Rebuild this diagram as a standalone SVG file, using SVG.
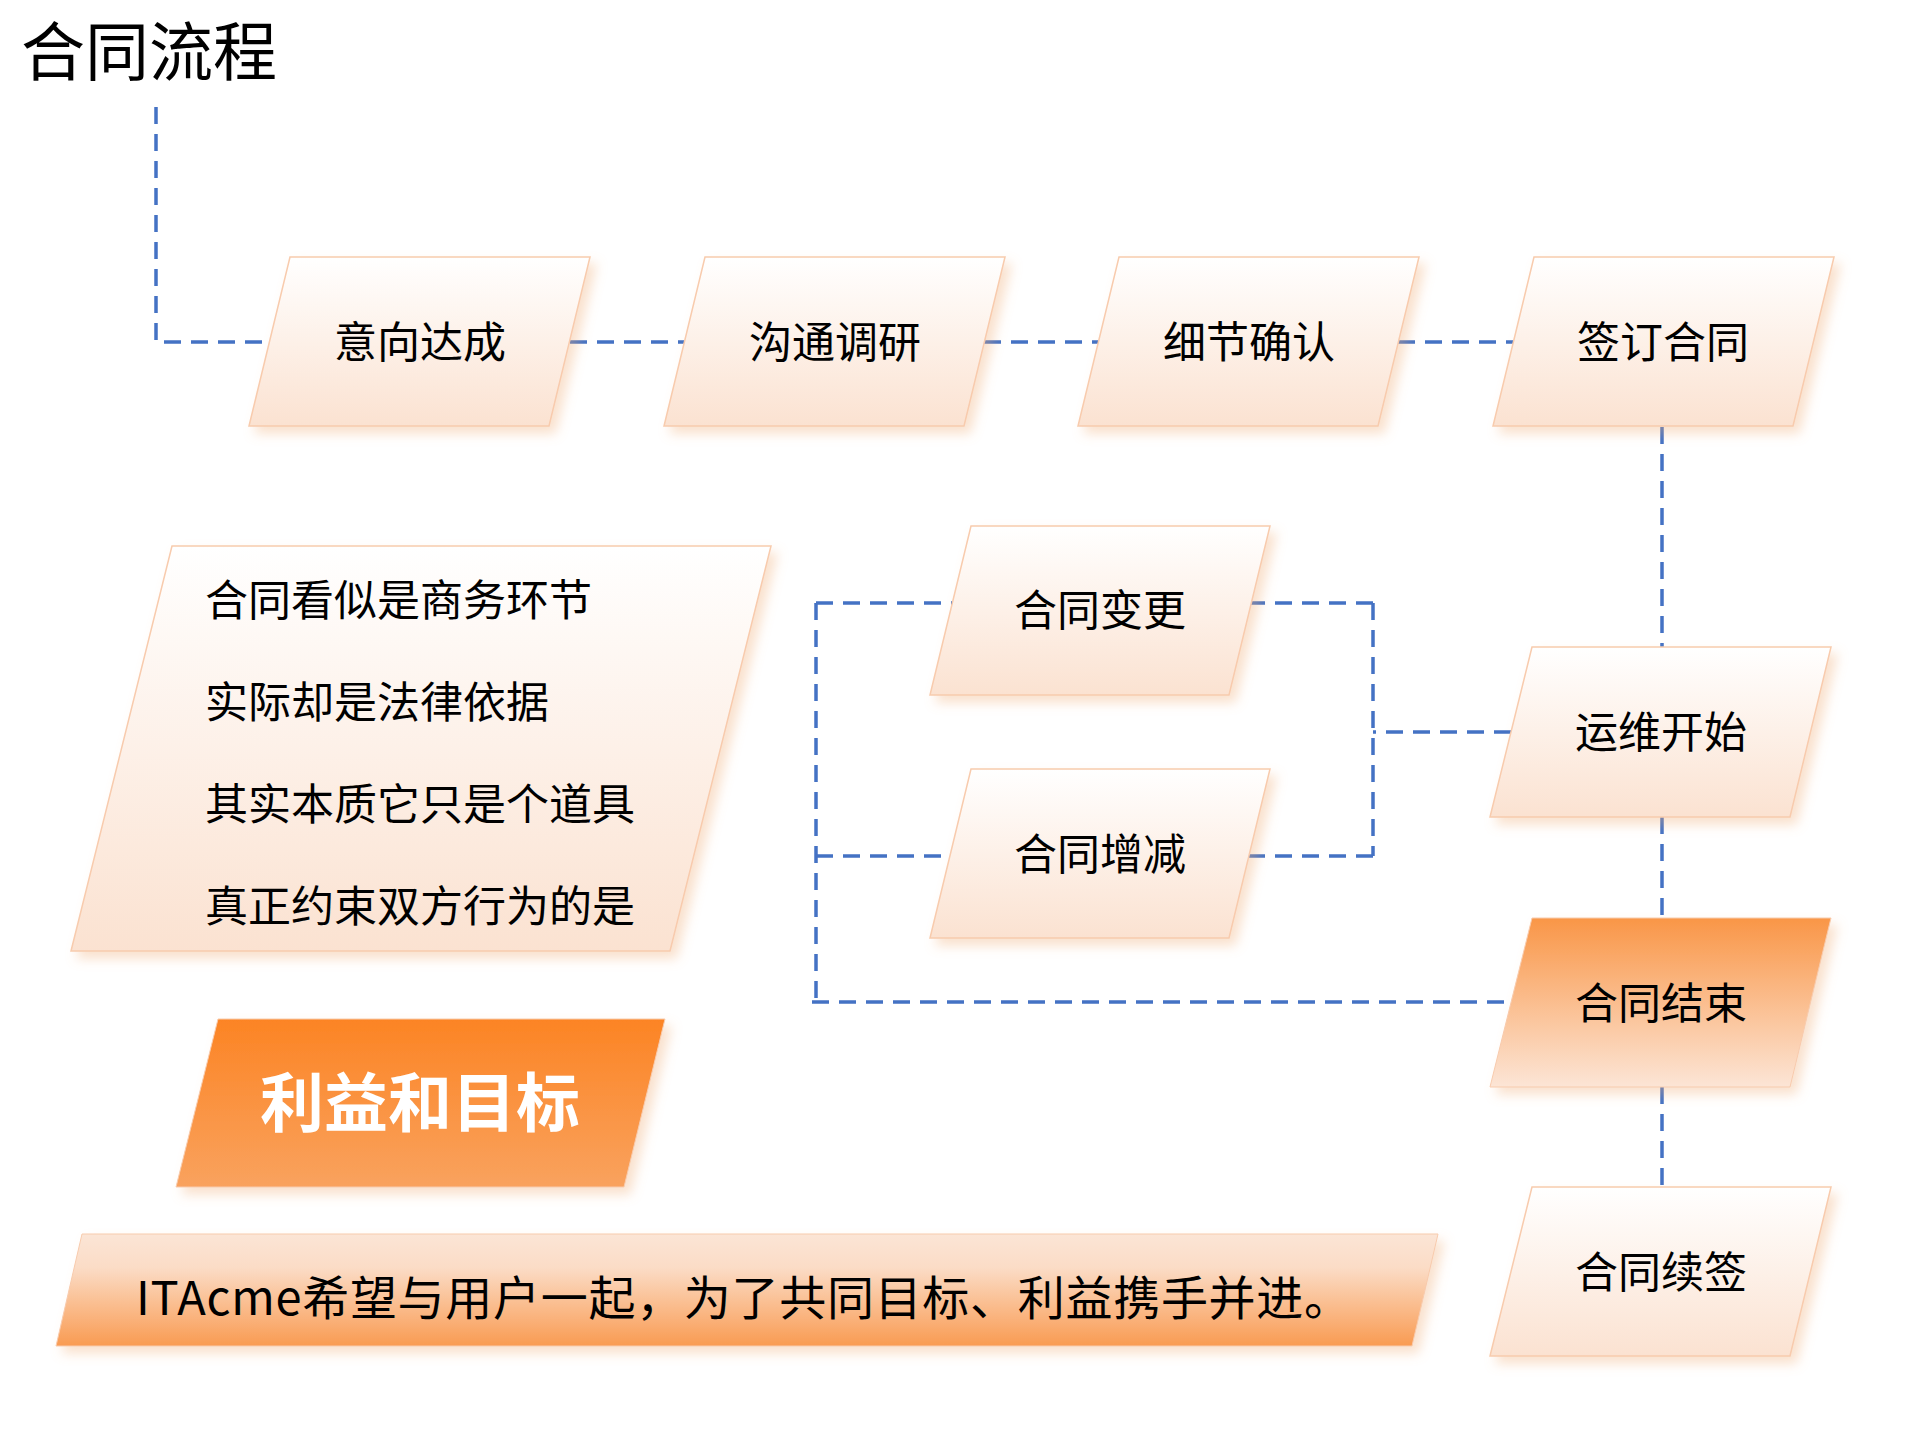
<svg xmlns="http://www.w3.org/2000/svg" width="1920" height="1440" viewBox="0 0 1920 1440">
<defs>
<linearGradient id="gLight" x1="0" y1="0" x2="0" y2="1">
<stop offset="0" stop-color="#FFFFFF"/>
<stop offset="1" stop-color="#FBE2D1"/>
</linearGradient>
<linearGradient id="gOrange" x1="0" y1="0" x2="0" y2="1">
<stop offset="0" stop-color="#FC8424"/>
<stop offset="1" stop-color="#F9A25E"/>
</linearGradient>
<linearGradient id="gEnd" x1="0" y1="0" x2="0" y2="1">
<stop offset="0" stop-color="#F99647"/>
<stop offset="1" stop-color="#FCE5D6"/>
</linearGradient>
<linearGradient id="gBanner" x1="0" y1="0" x2="0" y2="1">
<stop offset="0" stop-color="#FBE5D6"/>
<stop offset="0.3" stop-color="#FBDCC6"/>
<stop offset="1" stop-color="#F99B52"/>
</linearGradient>
<filter id="sh" x="-20%" y="-20%" width="140%" height="150%">
<feDropShadow dx="6" dy="7" stdDeviation="6" flood-color="#F0A870" flood-opacity="0.35"/>
</filter>
</defs>
<style>
.conn { fill: none; stroke: #4472C4; stroke-width: 3.5; stroke-dasharray: 17 10; }
.light { fill: url(#gLight); stroke: #F8CBAD; stroke-width: 1.5; filter: url(#sh); }
.orange { fill: url(#gOrange); stroke: #F8CBAD; stroke-width: 1; filter: url(#sh); }
.end { fill: url(#gEnd); stroke: #F8CBAD; stroke-width: 1; filter: url(#sh); }
.banner { fill: url(#gBanner); stroke: #F8CBAD; stroke-width: 1; filter: url(#sh); }
.lbl { font-family: "Noto Sans CJK SC", "Noto Sans", sans-serif; font-size: 43px; fill: #000; text-anchor: middle; }
.body { font-family: "Noto Sans CJK SC", "Noto Sans", sans-serif; font-size: 43px; fill: #000; }
.ban { font-family: "Noto Sans CJK SC", "Noto Sans", sans-serif; font-size: 47px; fill: #000; }
.title { font-family: "Noto Sans CJK SC", "Noto Sans", sans-serif; font-size: 64px; fill: #000; }
.big { font-family: "Noto Sans CJK SC", "Noto Sans", sans-serif; font-size: 64px; font-weight: bold; fill: #FFFFFF; text-anchor: middle; }
</style>
<rect width="1920" height="1440" fill="#FFFFFF"/>
<text class="title" x="21" y="75">合同流程</text>

<g id="connectors">
<path class="conn" d="M156,107 V342 H270"/>
<path class="conn" d="M570,342 H685"/>
<path class="conn" d="M984,342 H1099"/>
<path class="conn" d="M1398,342 H1513"/>
<path class="conn" d="M1662,427 V647"/>
<path class="conn" d="M1662,817 V918"/>
<path class="conn" d="M1662,1087 V1187"/>
<path class="conn" d="M1511,732 H1373"/>
<path class="conn" d="M1373,603 V856"/>
<path class="conn" d="M1373,603 H1251"/>
<path class="conn" d="M1373,856 H1249"/>
<path class="conn" d="M816,603 V1006"/>
<path class="conn" d="M816,603 H952"/>
<path class="conn" d="M816,856 H950"/>
<path class="conn" d="M812,1002 H1512"/>
</g>

<g id="n1">
<polygon class="light" points="290,257 590,257 549,426 249,426"/>
<text class="lbl" x="420" y="358">意向达成</text>
</g>
<g id="n2">
<polygon class="light" points="705,257 1005,257 964,426 664,426"/>
<text class="lbl" x="835" y="358">沟通调研</text>
</g>
<g id="n3">
<polygon class="light" points="1119,257 1419,257 1378,426 1078,426"/>
<text class="lbl" x="1249" y="358">细节确认</text>
</g>
<g id="n4">
<polygon class="light" points="1534,257 1834,257 1793,426 1493,426"/>
<text class="lbl" x="1663" y="358">签订合同</text>
</g>
<g id="n5">
<polygon class="light" points="1532,647 1831,647 1790,817 1490,817"/>
<text class="lbl" x="1661" y="748">运维开始</text>
</g>
<g id="n6">
<polygon class="light" points="971,526 1270,526 1229,695 930,695"/>
<text class="lbl" x="1100" y="626">合同变更</text>
</g>
<g id="n7">
<polygon class="light" points="971,769 1270,769 1229,938 930,938"/>
<text class="lbl" x="1100" y="870">合同增减</text>
</g>
<g id="n8">
<polygon class="end" points="1532,918 1831,918 1790,1087 1490,1087"/>
<text class="lbl" x="1661" y="1019">合同结束</text>
</g>
<g id="n9">
<polygon class="light" points="1532,1187 1831,1187 1790,1356 1490,1356"/>
<text class="lbl" x="1661" y="1288">合同续签</text>
</g>

<g id="textbox">
<polygon class="light" points="172,546 771,546 670,951 71,951"/>
<text class="body" x="205" y="616">合同看似是商务环节</text>
<text class="body" x="205" y="718">实际却是法律依据</text>
<text class="body" x="205" y="820">其实本质它只是个道具</text>
<text class="body" x="205" y="922">真正约束双方行为的是</text>
</g>

<g id="goal">
<polygon class="orange" points="218,1019 665,1019 624,1187 176,1187"/>
<text class="big" x="420" y="1126">利益和目标</text>
</g>

<g id="banner">
<polygon class="banner" points="82,1234 1438,1234 1412,1346 56,1346"/>
<text class="ban" x="136" y="1315" textLength="1215" lengthAdjust="spacing">ITAcme希望与用户一起，为了共同目标、利益携手并进。</text>
</g>
</svg>
